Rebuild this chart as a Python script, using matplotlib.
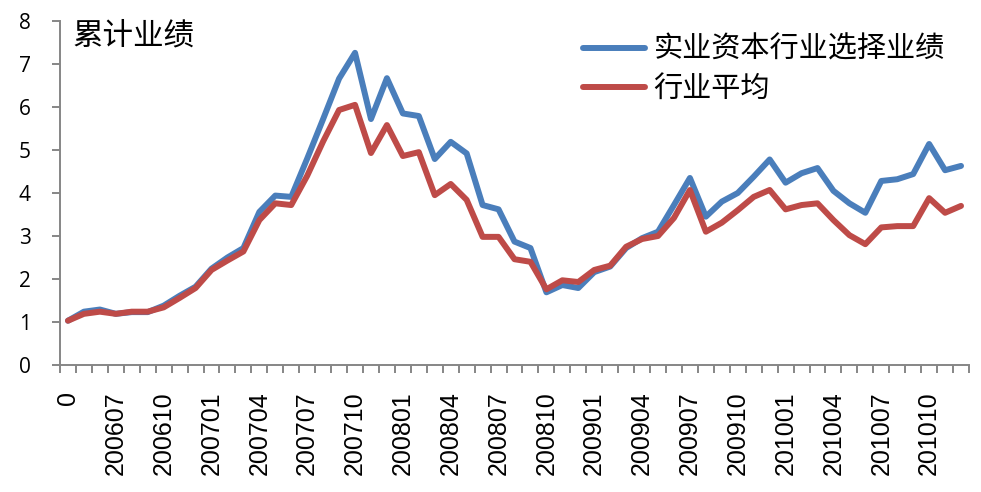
import numpy as np
import matplotlib.pyplot as plt

# categories: start point "0", then monthly 200605 .. 201012
months = ["0"]
for y in range(2006, 2011):
    for m in range(1, 13):
        if y == 2006 and m < 5:
            continue
        months.append("%d%02d" % (y, m))

# 实业资本行业选择业绩
selected = [1.03, 1.24, 1.29, 1.19, 1.23, 1.23, 1.38, 1.61, 1.82, 2.24,
            2.50, 2.72, 3.56, 3.94, 3.91, 4.80, 5.72, 6.66, 7.26, 5.72,
            6.67, 5.85, 5.79, 4.79, 5.19, 4.92, 3.72, 3.62, 2.87, 2.72,
            1.69, 1.86, 1.79, 2.16, 2.29, 2.72, 2.95, 3.10, 3.72, 4.35,
            3.45, 3.80, 4.00, 4.38, 4.78, 4.24, 4.46, 4.58, 4.05, 3.76,
            3.54, 4.28, 4.32, 4.44, 5.14, 4.53, 4.63]
# 行业平均
average = [1.03, 1.19, 1.24, 1.19, 1.24, 1.24, 1.34, 1.56, 1.79, 2.21,
           2.43, 2.64, 3.37, 3.76, 3.72, 4.40, 5.20, 5.93, 6.05, 4.93,
           5.58, 4.86, 4.95, 3.95, 4.21, 3.84, 2.98, 2.98, 2.46, 2.40,
           1.76, 1.97, 1.93, 2.21, 2.31, 2.75, 2.93, 3.00, 3.42, 4.07,
           3.10, 3.31, 3.60, 3.91, 4.07, 3.62, 3.72, 3.76, 3.37, 3.02,
           2.81, 3.20, 3.23, 3.23, 3.88, 3.54, 3.70]

series_names = ["实业资本行业选择业绩", "行业平均"]

cjk = ["Noto Sans CJK SC", "DejaVu Sans"]
gray = "#868686"

fig = plt.figure(figsize=(9.81, 4.92), dpi=100)
ax = fig.add_axes([60/981, 1-365/492, 909/981, 344/492])

x = np.arange(len(months))
ax.plot(x, selected, color="#4A7EBB", lw=4.3, solid_joinstyle="round",
        solid_capstyle="round", label=series_names[0])
ax.plot(x, average, color="#BE4B48", lw=4.3, solid_joinstyle="round",
        solid_capstyle="round", label=series_names[1])

ax.set_xlim(-0.5, len(months) - 0.5)
ax.set_ylim(0, 8)

for s in ["top", "right"]:
    ax.spines[s].set_visible(False)
for s in ["left", "bottom"]:
    ax.spines[s].set_color(gray)
    ax.spines[s].set_linewidth(1.4)

ax.set_yticks(np.arange(0, 9, 1))
ax.tick_params(axis="y", direction="out", length=6, width=1.4, color=gray,
               pad=15, labelsize=15)
for t in ax.get_yticklabels():
    t.set_fontfamily("Open Sans")

ax.set_xticks(x[::3])
ax.set_xticklabels(months[::3], rotation=90, fontsize=18,
                   fontfamily="Liberation Sans")
ax.set_xticks(np.arange(-0.5, len(months), 1), minor=True)
ax.tick_params(axis="x", which="major", length=0, pad=19)
ax.tick_params(axis="x", which="minor", direction="out", length=6,
               width=1.4, color=gray)

fig.text(72/981, 1-36/492, "累计业绩", fontsize=22, family=cjk, va="center")

leg = ax.legend(loc="upper left", bbox_to_anchor=(583/981, 1-35/492),
                bbox_transform=fig.transFigure, frameon=False,
                prop={"family": cjk, "size": 21}, handlelength=2.14,
                handletextpad=0.28, labelspacing=0.3, borderpad=0,
                borderaxespad=0)

fig.savefig("out.png", dpi=100)
